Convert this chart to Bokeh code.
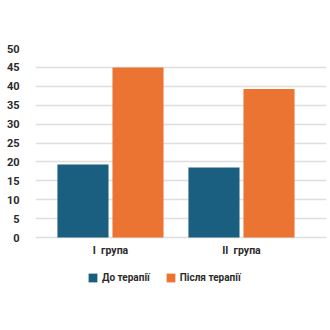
from bokeh.plotting import figure
from bokeh.models import Range1d, Legend, LegendItem, FixedTicker, ColumnDataSource
from bokeh.core.properties import value
from bokeh.embed import file_html
from bokeh.resources import INLINE

groups = ["I\u00a0\u00a0група", "II\u00a0\u00a0група"]
series = ["До терапії", "Після терапії"]
before = [19.3, 18.5]
after = [45.0, 39.3]
y_ticks = [0, 5, 10, 15, 20, 25, 30, 35, 40, 45, 50]
colors = ["#1a5f80", "#ec7433"]

FONT = "Roboto"
TXT = "#2b2b2b"

p = figure(width=330, height=330, output_backend="svg", toolbar_location=None,
           x_range=Range1d(-0.5725, 1.649), y_range=Range1d(-16.4, 50),
           min_border_left=35, min_border_right=4, min_border_top=48, min_border_bottom=31)
p.outline_line_color = None
p.background_fill_color = "white"
p.xaxis.visible = False

xs = list(range(len(groups)))
off = 0.21
w = 0.39
src_b = ColumnDataSource(dict(x=[x - off for x in xs], top=before))
src_a = ColumnDataSource(dict(x=[x + off for x in xs], top=after))
rb = p.vbar(x="x", top="top", width=w, source=src_b, fill_color=colors[0], line_color=None)
ra = p.vbar(x="x", top="top", width=w, source=src_a, fill_color=colors[1], line_color=None)

p.text(x=xs, y=[0] * len(xs), text=groups, y_offset=13,
       text_align="center", text_baseline="middle",
       text_font=value(FONT), text_font_style="bold", text_font_size="10.5px",
       text_color=TXT)

p.xgrid.grid_line_color = None
p.ygrid.grid_line_color = "#dedede"
p.ygrid.grid_line_width = 1.5
p.ygrid.ticker = FixedTicker(ticks=y_ticks)

p.yaxis.ticker = FixedTicker(ticks=y_ticks)
p.yaxis.axis_line_color = None
p.yaxis.major_tick_line_color = None
p.yaxis.minor_tick_line_color = None
p.yaxis.major_label_standoff = 10
p.yaxis.major_label_text_font = FONT
p.yaxis.major_label_text_font_style = "bold"
p.yaxis.major_label_text_font_size = "11px"
p.yaxis.major_label_text_color = TXT

legend = Legend(items=[LegendItem(label=series[0], renderers=[rb]),
                       LegendItem(label=series[1], renderers=[ra])],
                orientation="horizontal", location=(52, 16),
                glyph_width=11, glyph_height=11, spacing=15, label_standoff=4,
                label_text_font=FONT, label_text_font_style="bold",
                label_text_font_size="10px", label_text_color=TXT,
                label_height=11,
                border_line_color=None, background_fill_alpha=0,
                padding=0, margin=0)
p.add_layout(legend, "center")

open("out.html", "w").write(file_html(p, INLINE))
